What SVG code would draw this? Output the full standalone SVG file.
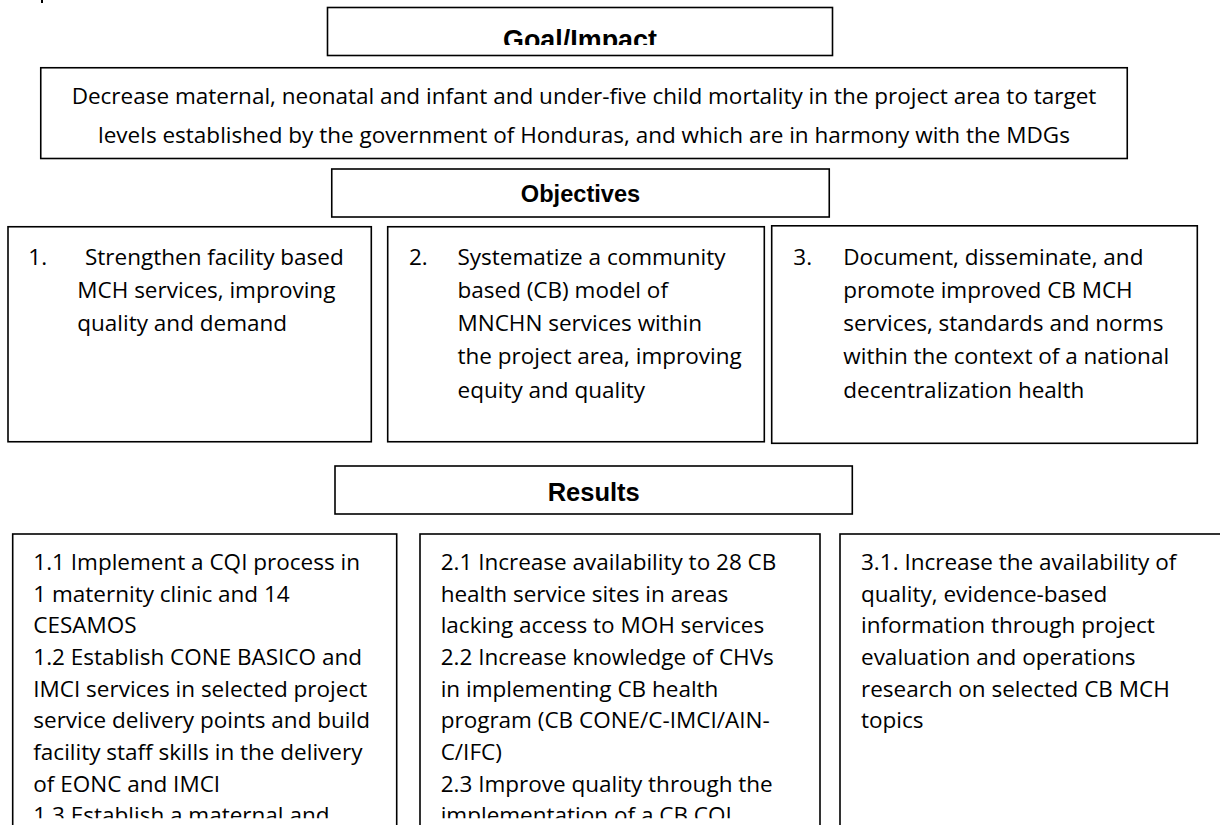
<svg xmlns="http://www.w3.org/2000/svg" width="1220" height="825" viewBox="0 0 1220 825">
<style>
.box{fill:#fff;stroke:#000;stroke-width:1.6}
.hd{font-family:"Liberation Sans",Arial,sans-serif;font-weight:bold;fill:#000;text-anchor:middle}
.tx{font-family:"Open Sans","Noto Sans",sans-serif;font-size:22.5px;fill:#000}
</style>
<defs>
<clipPath id="clipGoalHd"><rect x="327" y="0" width="506" height="45"/></clipPath>
<clipPath id="clipRes"><rect x="0" y="530" width="1220" height="288.3"/></clipPath>
</defs>
<rect width="1220" height="825" fill="#fff"/>
<path d="M42 0V3" stroke="#000" stroke-width="2"/>
<g id="connectors"/>
<g id="goal-header">
<rect class="box" x="327.5" y="7.5" width="505" height="48"/>
<text class="hd" x="580" y="48.6" font-size="26.9" clip-path="url(#clipGoalHd)">Goal/Impact</text>
</g>
<g id="goal">
<rect class="box" x="40.75" y="67.75" width="1086.5" height="90.75"/>
<text class="tx" x="584" y="104" text-anchor="middle">Decrease maternal, neonatal and infant and under-five child mortality in the project area to target</text>
<text class="tx" x="584" y="143" text-anchor="middle">levels established by the government of Honduras, and which are in harmony with the MDGs</text>
</g>
<g id="objectives-header">
<rect class="box" x="331.75" y="169" width="497.5" height="48"/>
<text class="hd" x="580.5" y="201.7" font-size="23.6">Objectives</text>
</g>
<g id="objective-1">
<rect class="box" x="8" y="226.75" width="363.3" height="215"/>
<text class="tx" x="28.3" y="264.5">1.</text>
<text class="tx" x="85" y="264.5">Strengthen facility based</text>
<text class="tx" x="77.3" y="297.8">MCH services, improving</text>
<text class="tx" x="77.3" y="331.1">quality and demand</text>
</g>
<g id="objective-2">
<rect class="box" x="387.7" y="226.75" width="376.6" height="215"/>
<text class="tx" x="409" y="264.5">2.</text>
<text class="tx" x="457.5" y="264.5">Systematize a community</text>
<text class="tx" x="457.5" y="297.8">based (CB) model of</text>
<text class="tx" x="457.5" y="331.1">MNCHN services within</text>
<text class="tx" x="457.5" y="364.4">the project area, improving</text>
<text class="tx" x="457.5" y="397.7">equity and quality</text>
</g>
<g id="objective-3">
<rect class="box" x="771.7" y="225.8" width="425.6" height="217.5"/>
<text class="tx" x="793.3" y="264.5">3.</text>
<text class="tx" x="843.3" y="264.5">Document, disseminate, and</text>
<text class="tx" x="843.3" y="297.8">promote improved CB MCH</text>
<text class="tx" x="843.3" y="331.1">services, standards and norms</text>
<text class="tx" x="843.3" y="364.4">within the context of a national</text>
<text class="tx" x="843.3" y="397.7">decentralization health</text>
</g>
<g id="results-header">
<rect class="box" x="335" y="466" width="517.3" height="48"/>
<text class="hd" x="593.7" y="500.7" font-size="25.5">Results</text>
</g>
<g id="result-1">
<rect class="box" x="12.7" y="534" width="384" height="320"/>
<g clip-path="url(#clipRes)">
<text class="tx" x="33.3" y="570">1.1 Implement a CQI process in</text>
<text class="tx" x="33.3" y="601.7">1 maternity clinic and 14</text>
<text class="tx" x="33.3" y="633.3">CESAMOS</text>
<text class="tx" x="33.3" y="665">1.2 Establish CONE BASICO and</text>
<text class="tx" x="33.3" y="696.7">IMCI services in selected project</text>
<text class="tx" x="33.3" y="728.3">service delivery points and build</text>
<text class="tx" x="33.3" y="760">facility staff skills in the delivery</text>
<text class="tx" x="33.3" y="791.7">of EONC and IMCI</text>
<text class="tx" x="33.3" y="823.3">1.3 Establish a maternal and</text>
</g>
</g>
<g id="result-2">
<rect class="box" x="420" y="534" width="400" height="320"/>
<g clip-path="url(#clipRes)">
<text class="tx" x="440.7" y="570">2.1 Increase availability to 28 CB</text>
<text class="tx" x="440.7" y="601.7">health service sites in areas</text>
<text class="tx" x="440.7" y="633.3">lacking access to MOH services</text>
<text class="tx" x="440.7" y="665">2.2 Increase knowledge of CHVs</text>
<text class="tx" x="440.7" y="696.7">in implementing CB health</text>
<text class="tx" x="440.7" y="728.3">program (CB CONE/C-IMCI/AIN-</text>
<text class="tx" x="440.7" y="760">C/IFC)</text>
<text class="tx" x="440.7" y="791.7">2.3 Improve quality through the</text>
<text class="tx" x="440.7" y="823.3">implementation of a CB CQI</text>
</g>
</g>
<g id="result-3">
<rect class="box" x="840" y="534" width="420" height="320"/>
<text class="tx" x="861" y="570">3.1. Increase the availability of</text>
<text class="tx" x="861" y="601.7">quality, evidence-based</text>
<text class="tx" x="861" y="633.3">information through project</text>
<text class="tx" x="861" y="665">evaluation and operations</text>
<text class="tx" x="861" y="696.7">research on selected CB MCH</text>
<text class="tx" x="861" y="728.3">topics</text>
</g>
</svg>
